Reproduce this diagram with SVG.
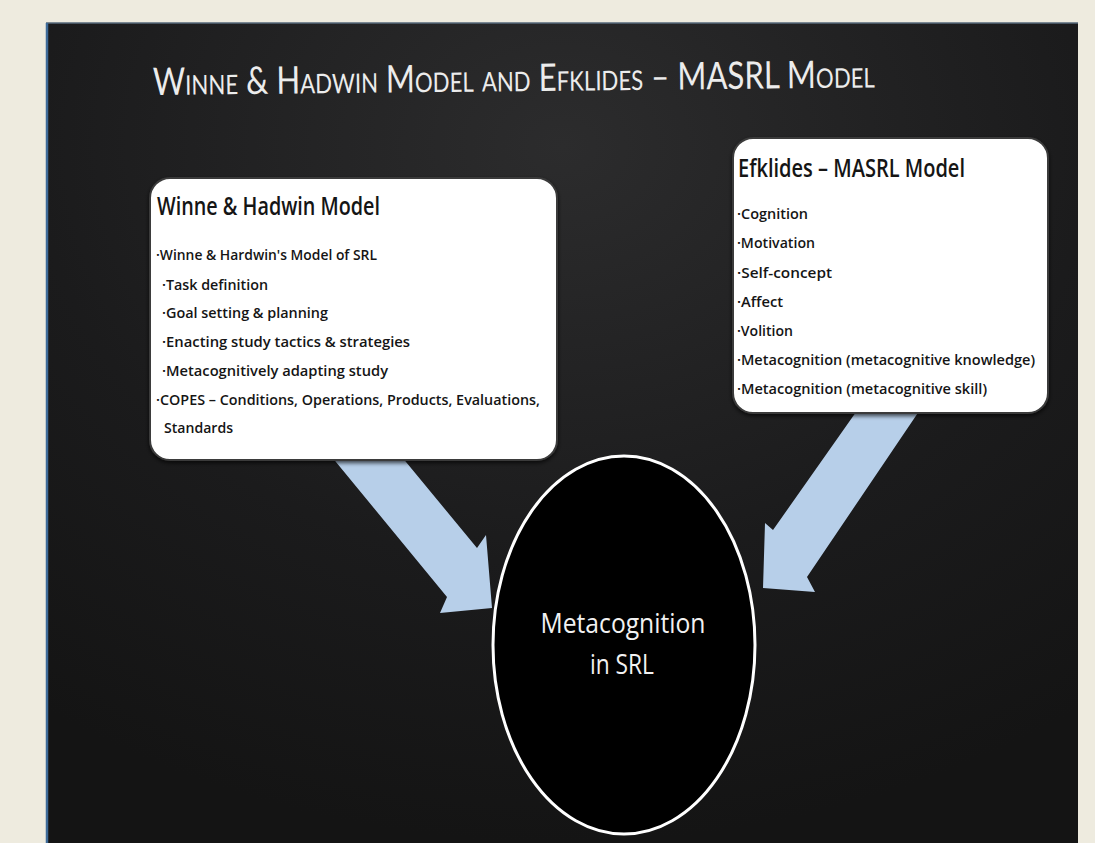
<svg xmlns="http://www.w3.org/2000/svg" width="1095" height="843" viewBox="0 0 1095 843">
  <defs>
    <radialGradient id="slideBg" cx="0.5" cy="0.15" r="0.85">
      <stop offset="0" stop-color="#2c2c2d"/>
      <stop offset="0.6" stop-color="#1b1b1c"/>
      <stop offset="1" stop-color="#141414"/>
    </radialGradient>
    <filter id="shadow" x="-10%" y="-10%" width="120%" height="120%">
      <feDropShadow dx="0" dy="2" stdDeviation="2" flood-color="#000" flood-opacity="0.7"/>
    </filter>
  </defs>
  <style>
    .title { font-family: Lato, "Liberation Sans", "DejaVu Sans", sans-serif; font-weight: 400; font-variant: small-caps; fill: #ececec; font-size: 38px; }
    .box { fill: #ffffff; stroke: #3a3a3a; stroke-width: 2; }
    .head { font-family: "Open Sans", "Noto Sans", "Liberation Sans", sans-serif; font-size: 25px; fill: #151515; font-weight: 600; }
    .item { font-family: "Open Sans", "Noto Sans", "Liberation Sans", sans-serif; font-size: 15px; fill: #151515; font-weight: 600; }
    .arrow { fill: #b7cfe9; }
    .circle { fill: #000000; stroke: #ffffff; stroke-width: 3; }
    .ctext { font-family: "Open Sans", "Noto Sans", "Liberation Sans", sans-serif; font-size: 27px; fill: #f2f2f2; text-anchor: middle; font-weight: 500; }
  </style>

  <!-- page background -->
  <rect x="0" y="0" width="1095" height="843" fill="#eeebdf"/>
  <!-- slide -->
  <rect x="46" y="23" width="1032" height="820" fill="url(#slideBg)"/>
  <line x1="46" y1="23" x2="1078" y2="23" stroke="#56687a" stroke-width="1.5"/>
  <line x1="47" y1="23" x2="47" y2="843" stroke="#3d6a98" stroke-width="2.5"/>

  <text class="title" x="153" y="95" textLength="722" lengthAdjust="spacingAndGlyphs" transform="rotate(-0.6 153 95)">Winne &amp; Hadwin Model and Efklides – MASRL Model</text>

  <!-- connectors -->
  <g id="connectors">
    <polygon class="arrow" points="322,445 447,597 440,613 492,608 486,535 477,548 392,445"/>
    <polygon class="arrow" points="868,395 773,530 765,523 763,588 815,592 807,577 930,395"/>
  </g>

  <!-- left node -->
  <g id="winne-hadwin">
    <rect class="box" x="150" y="178" width="407" height="282" rx="20" filter="url(#shadow)"/>
    <text class="head" x="157" y="215" textLength="223" lengthAdjust="spacingAndGlyphs">Winne &amp; Hadwin Model</text>
    <text class="item" x="156" y="260" textLength="221" lengthAdjust="spacingAndGlyphs">·Winne &amp; Hardwin's Model of SRL</text>
    <text class="item" x="162" y="290" textLength="106" lengthAdjust="spacingAndGlyphs">·Task definition</text>
    <text class="item" x="162" y="318" textLength="166" lengthAdjust="spacingAndGlyphs">·Goal setting &amp; planning</text>
    <text class="item" x="162" y="347" textLength="248" lengthAdjust="spacingAndGlyphs">·Enacting study tactics &amp; strategies</text>
    <text class="item" x="162" y="376" textLength="226" lengthAdjust="spacingAndGlyphs">·Metacognitively adapting study</text>
    <text class="item" x="156" y="405" textLength="384" lengthAdjust="spacingAndGlyphs">·COPES – Conditions, Operations, Products, Evaluations,</text>
    <text class="item" x="164" y="433" textLength="69" lengthAdjust="spacingAndGlyphs">Standards</text>
  </g>

  <!-- right node -->
  <g id="efklides">
    <rect class="box" x="733" y="138" width="315" height="275" rx="20" filter="url(#shadow)"/>
    <text class="head" x="738" y="177" textLength="227" lengthAdjust="spacingAndGlyphs">Efklides – MASRL Model</text>
    <text class="item" x="737" y="219" textLength="71" lengthAdjust="spacingAndGlyphs">·Cognition</text>
    <text class="item" x="737" y="248" textLength="78" lengthAdjust="spacingAndGlyphs">·Motivation</text>
    <text class="item" x="737" y="278" textLength="95" lengthAdjust="spacingAndGlyphs">·Self-concept</text>
    <text class="item" x="737" y="307" textLength="46" lengthAdjust="spacingAndGlyphs">·Affect</text>
    <text class="item" x="737" y="336" textLength="56" lengthAdjust="spacingAndGlyphs">·Volition</text>
    <text class="item" x="737" y="365" textLength="298" lengthAdjust="spacingAndGlyphs">·Metacognition (metacognitive knowledge)</text>
    <text class="item" x="737" y="394" textLength="250" lengthAdjust="spacingAndGlyphs">·Metacognition (metacognitive skill)</text>
  </g>

  <!-- center node -->
  <g id="metacognition">
    <ellipse class="circle" cx="624" cy="645" rx="131" ry="189"/>
    <text class="ctext" x="623" y="633" textLength="165" lengthAdjust="spacingAndGlyphs">Metacognition</text>
    <text class="ctext" x="622" y="674" textLength="64" lengthAdjust="spacingAndGlyphs">in SRL</text>
  </g>
</svg>
